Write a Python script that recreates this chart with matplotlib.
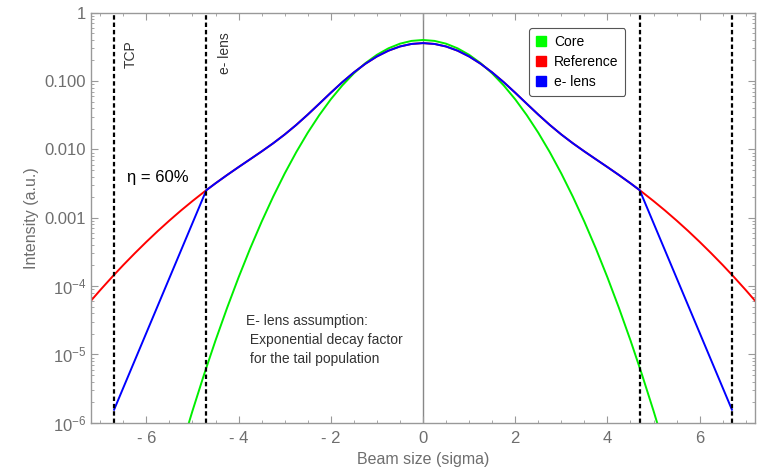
import matplotlib.pyplot as plt
from matplotlib.lines import Line2D
from matplotlib.ticker import FixedLocator, FixedFormatter, LogLocator, MultipleLocator, NullFormatter

plt.rcParams['font.family'] = ['Liberation Sans', 'DejaVu Sans']
plt.rcParams['mathtext.fontset'] = 'custom'
plt.rcParams['mathtext.rm'] = 'Liberation Sans'
plt.rcParams['mathtext.it'] = 'Liberation Sans:italic'

# beam profiles (intensity vs. beam size in sigma)
sigma_core = [-5.5, -5.25, -5.0, -4.75, -4.5, -4.25, -4.0, -3.75, -3.5, -3.25, -3.0,
              -2.75, -2.5, -2.25, -2.0, -1.75, -1.5, -1.25, -1.0, -0.75, -0.5, -0.25,
              0.0, 0.25, 0.5, 0.75, 1.0, 1.25, 1.5, 1.75, 2.0, 2.25, 2.5, 2.75, 3.0,
              3.25, 3.5, 3.75, 4.0, 4.25, 4.5, 4.75, 5.0, 5.25, 5.5]
core = [1.08e-7, 4.13e-7, 1.487e-6, 5.04e-6, 1.60e-5, 4.77e-5, 1.338e-4, 3.53e-4,
        8.73e-4, 0.002029, 0.004432, 0.00909, 0.01753, 0.0317, 0.0540, 0.0863,
        0.1295, 0.1826, 0.2420, 0.3011, 0.3521, 0.3867,
        0.3989,
        0.3867, 0.3521, 0.3011, 0.2420, 0.1826, 0.1295, 0.0863, 0.0540, 0.0317,
        0.01753, 0.00909, 0.004432, 0.002029, 8.73e-4, 3.53e-4, 1.338e-4, 4.77e-5,
        1.60e-5, 5.04e-6, 1.487e-6, 4.13e-7, 1.08e-7]

sigma_ref = [-7.25, -7.0, -6.75, -6.5, -6.25, -6.0, -5.75, -5.5, -5.25, -5.0, -4.75,
             -4.5, -4.25, -4.0, -3.75, -3.5, -3.25, -3.0, -2.75, -2.5, -2.25, -2.0,
             -1.75, -1.5, -1.25, -1.0, -0.75, -0.5, -0.25, 0.0, 0.25, 0.5, 0.75, 1.0,
             1.25, 1.5, 1.75, 2.0, 2.25, 2.5, 2.75, 3.0, 3.25, 3.5, 3.75, 4.0, 4.25,
             4.5, 4.75, 5.0, 5.25, 5.5, 5.75, 6.0, 6.25, 6.5, 6.75, 7.0, 7.25]
reference = [5.59e-5, 8.73e-5, 1.342e-4, 2.03e-4, 3.02e-4, 4.43e-4, 6.40e-4, 9.09e-4,
             0.001273, 0.001753, 0.002381, 0.003187, 0.004210, 0.005506, 0.007160,
             0.009327, 0.01228, 0.01650, 0.02277, 0.03228, 0.04655, 0.0674, 0.0963,
             0.1337, 0.1789, 0.2288, 0.2781, 0.3204, 0.3490,
             0.3590,
             0.3490, 0.3204, 0.2781, 0.2288, 0.1789, 0.1337, 0.0963, 0.0674, 0.04655,
             0.03228, 0.02277, 0.01650, 0.01228, 0.009327, 0.007160, 0.005506,
             0.004210, 0.003187, 0.002381, 0.001753, 0.001273, 9.09e-4, 6.40e-4,
             4.43e-4, 3.02e-4, 2.03e-4, 1.342e-4, 8.73e-5, 5.59e-5]

# e-lens case follows the reference inside the lens, decays exponentially outside
sigma_elens = [-6.7, -4.7] + sigma_ref[11:48] + [4.7, 6.7]
elens = [1.55e-6, 2.527e-3] + reference[11:48] + [2.527e-3, 1.55e-6]

cut_positions = [-6.7, -4.7, 4.7, 6.7]

x_ticks = [-6, -4, -2, 0, 2, 4, 6]
x_tick_labels = ['- 6', '- 4', '- 2', '0', '2', '4', '6']
y_ticks = [1e-6, 1e-5, 1e-4, 1e-3, 1e-2, 1e-1, 1]
y_tick_labels = ['10$^{-6}$', '10$^{-5}$', '10$^{-4}$', '0.001', '0.010', '0.100', '1']

frame_color = '#999999'
text_gray = '#6e6e6e'

fig = plt.figure(figsize=(7.63, 4.74), dpi=100)
ax = fig.add_axes([0.1193, 0.1082, 0.8702, 0.865])

ax.plot(sigma_core, core, color='#00ee00', lw=1.4)
ax.plot(sigma_ref, reference, color='#ff0000', lw=1.4)
ax.plot(sigma_elens, elens, color='#0000ff', lw=1.4)

ax.axvline(0, color='#888888', lw=1.0, zorder=0)
for xc in cut_positions:
    ax.axvline(xc, color='black', lw=1.6, ls=(0, (2, 1.3)))

ax.set_yscale('log')
ax.set_xlim(-7.2, 7.2)
ax.set_ylim(1e-6, 1)

ax.xaxis.set_major_locator(FixedLocator(x_ticks))
ax.xaxis.set_major_formatter(FixedFormatter(x_tick_labels))
ax.xaxis.set_minor_locator(MultipleLocator(0.5))
ax.yaxis.set_major_locator(FixedLocator(y_ticks))
ax.yaxis.set_major_formatter(FixedFormatter(y_tick_labels))
ax.yaxis.set_minor_locator(LogLocator(base=10, subs=range(2, 10), numticks=20))
ax.yaxis.set_minor_formatter(NullFormatter())

ax.tick_params(which='both', direction='in', top=True, right=True,
               color=frame_color, labelcolor=text_gray, labelsize=12)
ax.tick_params(which='major', length=5, width=0.8)
ax.tick_params(which='minor', length=2.5, width=0.6)
ax.tick_params(axis='x', pad=6)
for sp in ax.spines.values():
    sp.set_color(frame_color)
    sp.set_linewidth(1.0)

ax.set_xlabel('Beam size (sigma)', color=text_gray, fontsize=11.5, labelpad=4)
ax.set_ylabel('Intensity (a.u.)', color=text_gray, fontsize=11.5, labelpad=4)

ax.text(-6.33, 0.25, 'TCP', rotation=90, ha='center', va='center', fontsize=10,
        color='#333333')
ax.text(-4.29, 0.26, 'e- lens', rotation=90, ha='center', va='center', fontsize=10,
        color='#333333')
ax.text(-5.76, 3.9e-3, 'η = 60%', ha='center', va='center', fontsize=12, color='black')
ax.text(-3.84, 3.9e-5, 'E- lens assumption:\n Exponential decay factor\n for the tail population',
        ha='left', va='top', fontsize=10, color='#333333', linespacing=1.45)

handles = [Line2D([], [], ls='none', marker='s', markersize=7, color=c)
           for c in ['#00ff00', '#ff0000', '#0000ff']]
leg = ax.legend(handles, ['Core', 'Reference', 'e- lens'], loc='upper left',
                bbox_to_anchor=(0.649, 0.98), fontsize=10, handlelength=0.8,
                handletextpad=0.5, borderpad=0.5, labelspacing=0.45, fancybox=True,
                framealpha=1)
leg.get_frame().set_edgecolor('#555555')
leg.get_frame().set_linewidth(0.8)

fig.savefig('out.png', dpi=100)
